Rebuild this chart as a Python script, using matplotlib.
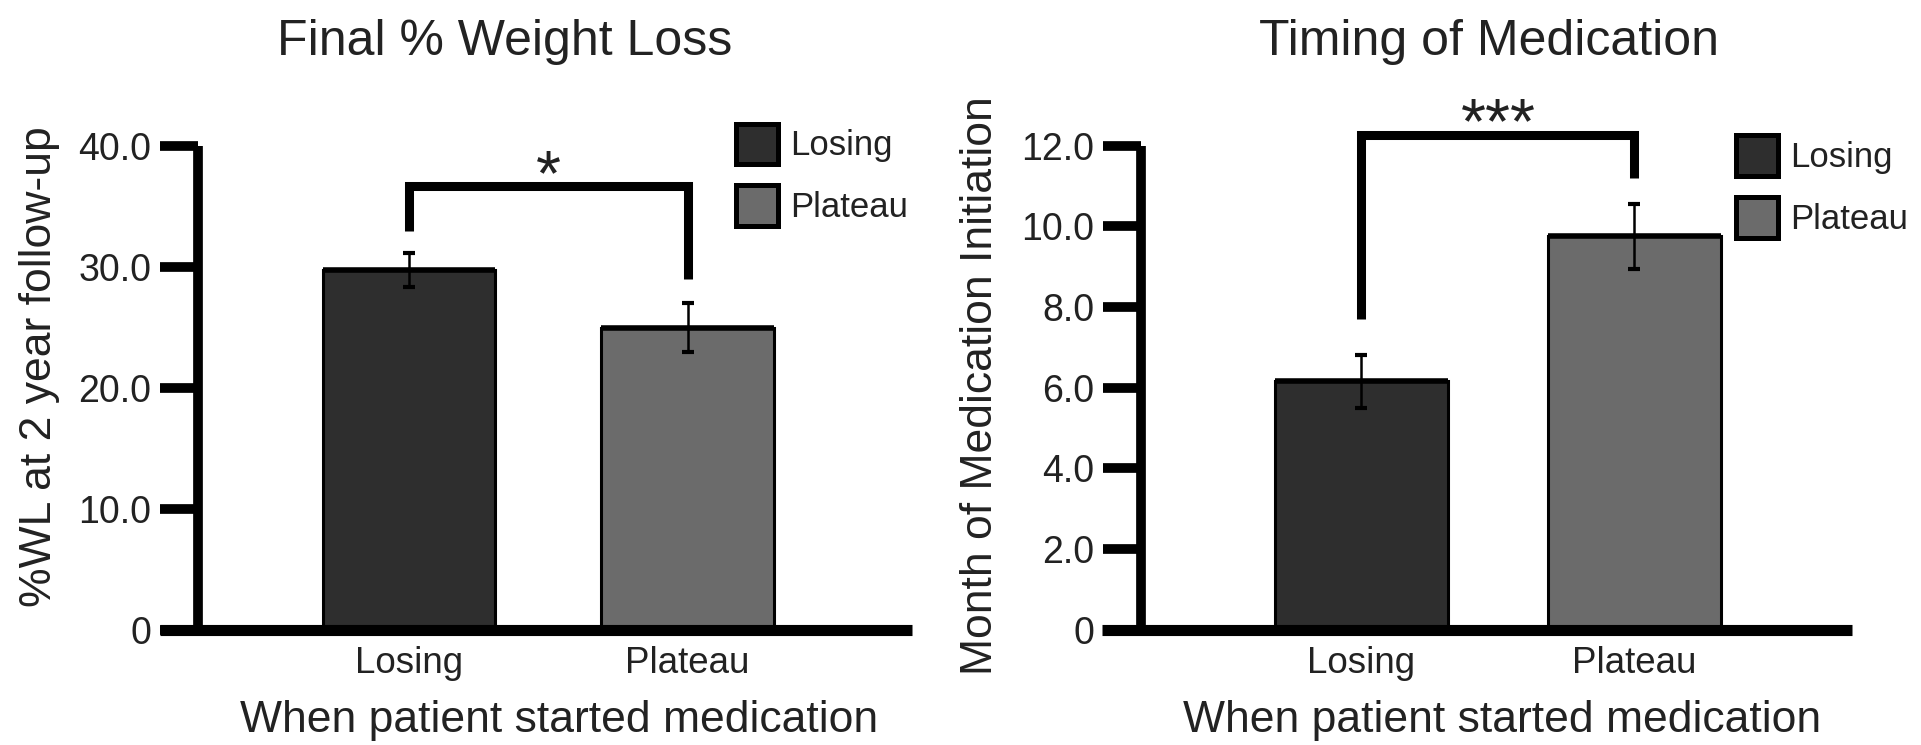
import matplotlib
matplotlib.use('Agg')
import matplotlib.pyplot as plt
from matplotlib.patches import Patch

plt.rcParams['font.family'] = ['Liberation Sans', 'DejaVu Sans']

# ---------------- data ----------------
groups = ['Losing', 'Plateau']
bar_colors = ['#2e2e2e', '#6b6b6b']

wl_means = [29.8, 25.0]
wl_errs = [1.4, 2.05]
wl_yticks = [0, 10, 20, 30, 40]
wl_yticklabels = ['0', '10.0', '20.0', '30.0', '40.0']
wl_bracket = [33.0, 36.7, 29.0]      # left end, top, right end
wl_star_y = 35.95

month_means = [6.15, 9.75]
month_errs = [0.65, 0.8]
month_yticks = [0, 2, 4, 6, 8, 10, 12]
month_yticklabels = ['0', '2.0', '4.0', '6.0', '8.0', '10.0', '12.0']
month_bracket = [7.7, 12.26, 11.19]
month_star_y = 12.05

W, H = 1921, 745
fig = plt.figure(figsize=(W / 100, H / 100), dpi=100)


def fx(px):
    return px / W


def fy(py):
    return 1 - py / H


def panel(x0, x1, y_top, y_bot, xlim, bw, spine_frac, means, errs, yticks,
          yticklabels, ylim, bracket, stars, star_y, title, title_x, ylabel,
          ylabel_x, ylabel_y, xlabel_x, legend_xy):
    ax = fig.add_axes([fx(x0), fy(y_bot), (x1 - x0) / W, (y_bot - y_top) / H])
    xs = list(range(len(groups)))
    ax.bar(xs, means, width=bw, color=bar_colors, edgecolor='black',
           linewidth=2.2, zorder=2)
    for x, m in zip(xs, means):
        ax.plot([x - bw / 2, x + bw / 2], [m, m], color='black', lw=4,
                solid_capstyle='butt', zorder=3)
    ax.errorbar(xs, means, yerr=errs, fmt='none', ecolor='black',
                elinewidth=1.8, capsize=4.5, capthick=3, zorder=4)
    # significance bracket
    ax.plot([xs[0], xs[0], xs[1], xs[1]],
            [bracket[0], bracket[1], bracket[1], bracket[2]],
            color='black', lw=6.5, solid_joinstyle='miter',
            solid_capstyle='butt', clip_on=False, zorder=5)
    ax.text((xs[0] + xs[1]) / 2, star_y, stars, ha='center', va='baseline',
            fontsize=46, color='#222222', clip_on=False)
    ax.set_xlim(*xlim)
    ax.set_ylim(*ylim)
    for s in ['top', 'right']:
        ax.spines[s].set_visible(False)
    ax.spines['left'].set_position(('axes', spine_frac))
    ax.spines['left'].set_linewidth(7.0)
    ax.spines['bottom'].set_linewidth(8)
    ax.spines['left'].set_capstyle('butt')
    ax.spines['bottom'].set_capstyle('butt')
    ax.set_yticks(yticks)
    ax.set_yticklabels(yticklabels)
    ax.tick_params(axis='y', direction='out', length=27.5, width=7.0,
                   pad=6, labelsize=27, colors='black', labelcolor='#222222')
    ax.set_xticks(xs)
    ax.set_xticklabels(groups)
    ax.tick_params(axis='x', length=0, pad=12, labelsize=26.5,
                   labelcolor='#222222')
    ax.set_xlabel('When patient started medication', fontsize=32,
                  color='#222222', va='baseline')
    ax.xaxis.set_label_coords((xlabel_x - x0) / (x1 - x0),
                              -(732 - y_bot) / (y_bot - y_top))
    ax.set_ylabel(ylabel, fontsize=32, color='#222222', va='center')
    ax.yaxis.set_label_coords((ylabel_x - x0) / (x1 - x0),
                              (y_bot - ylabel_y) / (y_bot - y_top))
    fig.text(fx(title_x), fy(55), title, ha='center', va='baseline',
             fontsize=36, color='#222222')
    handles = [Patch(facecolor=c, edgecolor='black', linewidth=3.6)
               for c in bar_colors]
    ax.legend(handles, groups, loc='upper left',
              bbox_to_anchor=(fx(legend_xy[0]), fy(legend_xy[1])),
              bbox_transform=fig.transFigure, frameon=False, fontsize=25,
              handlelength=1.21, handleheight=1.4, handletextpad=0.36,
              labelspacing=0.63, borderpad=0, borderaxespad=0,
              labelcolor='#222222')
    return ax


panel(160, 912, 146.5, 629.5, (-0.894, 1.806), 0.618, 0.0505, wl_means,
      wl_errs, wl_yticks, wl_yticklabels, (0, 40), wl_bracket, '*', wl_star_y,
      'Final % Weight Loss', 505, '%WL at 2 year follow-up', 40, 367,
      559, (735.5, 123.5))

panel(1102, 1852, 145.5, 629.5, (-0.9505, 1.797), 0.634, 0.052, month_means,
      month_errs, month_yticks, month_yticklabels, (0, 12), month_bracket,
      '***', month_star_y, 'Timing of Medication', 1489,
      'Month of Medication Initiation', 980, 386, 1502, (1735.5, 135.5))

fig.savefig('out.png', dpi=100)
